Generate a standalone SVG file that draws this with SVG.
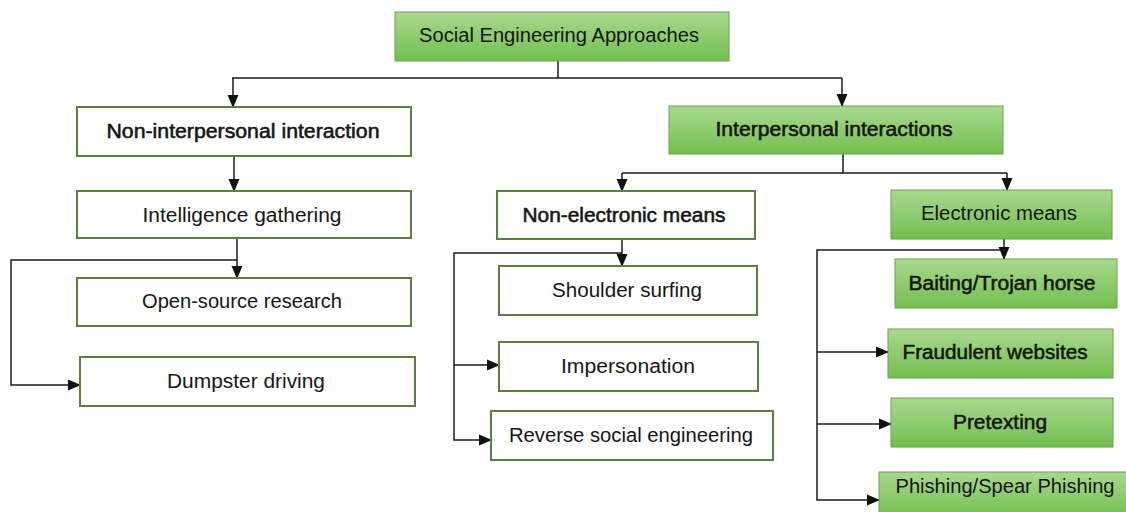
<svg xmlns="http://www.w3.org/2000/svg" width="1126" height="512" viewBox="0 0 1126 512">
  <defs>
    <linearGradient id="greenFill" x1="0" y1="0" x2="0" y2="1">
      <stop offset="0" stop-color="#a9d98f"/>
      <stop offset="1" stop-color="#72c04f"/>
    </linearGradient>
    <marker id="arrow" markerUnits="userSpaceOnUse" markerWidth="13" markerHeight="13" viewBox="0 0 13 13" refX="12" refY="6.5" orient="auto">
      <path d="M0,1 L13,6.5 L0,12 Z" fill="#111"/>
    </marker>
    <style>
      .plain rect { fill: #ffffff; stroke: #5f7d3c; stroke-width: 2; }
      .green rect { fill: url(#greenFill); stroke: #6f9d52; stroke-width: 1; }
      text { font-family: "Liberation Sans", Arial, sans-serif; font-size: 20px; fill: #151515; text-anchor: middle; }
      .b text { stroke: #151515; stroke-width: 0.55; }
      #connectors path { fill: none; stroke: #1a1a1a; stroke-width: 1.5; }
    </style>
  </defs>
  <rect width="1126" height="512" fill="#ffffff"/>

  <!-- connectors -->
  <g id="connectors">
    <path d="M558,61 V78 M232,78 H842"/>
    <path d="M233,78 V107" marker-end="url(#arrow)"/>
    <path d="M842,78 V106" marker-end="url(#arrow)"/>
    <path d="M234,156 V191" marker-end="url(#arrow)"/>
    <path d="M237,238 V278" marker-end="url(#arrow)"/>
    <path d="M237,260 H11 V385 H80" marker-end="url(#arrow)"/>
    <path d="M843,154 V173 M622,173 H1007"/>
    <path d="M622,173 V191" marker-end="url(#arrow)"/>
    <path d="M1007,173 V190" marker-end="url(#arrow)"/>
    <path d="M622,239 V266" marker-end="url(#arrow)"/>
    <path d="M622,253 H454 V440 H491" marker-end="url(#arrow)"/>
    <path d="M454,365 H499" marker-end="url(#arrow)"/>
    <path d="M1004,239 V259" marker-end="url(#arrow)"/>
    <path d="M1004,250 H817 V500 H879" marker-end="url(#arrow)"/>
    <path d="M817,352 H888" marker-end="url(#arrow)"/>
    <path d="M817,424 H891" marker-end="url(#arrow)"/>
  </g>

  <!-- root -->
  <g id="social-engineering-approaches" class="green">
    <rect x="395" y="12" width="334" height="49"/>
    <text x="559" y="42" textLength="280" lengthAdjust="spacingAndGlyphs">Social Engineering Approaches</text>
  </g>

  <!-- non-interpersonal branch -->
  <g id="non-interpersonal-interaction" class="plain b">
    <rect x="77" y="107" width="334" height="49"/>
    <text x="243" y="138" textLength="273" lengthAdjust="spacingAndGlyphs">Non-interpersonal interaction</text>
  </g>
  <g id="intelligence-gathering" class="plain">
    <rect x="77" y="191" width="334" height="47"/>
    <text x="242" y="222" textLength="199" lengthAdjust="spacingAndGlyphs">Intelligence gathering</text>
  </g>
  <g id="open-source-research" class="plain">
    <rect x="77" y="278" width="334" height="48"/>
    <text x="242" y="308" textLength="200" lengthAdjust="spacingAndGlyphs">Open-source research</text>
  </g>
  <g id="dumpster-driving" class="plain">
    <rect x="80" y="357" width="335" height="49"/>
    <text x="246" y="388" textLength="158" lengthAdjust="spacingAndGlyphs">Dumpster driving</text>
  </g>

  <!-- interpersonal branch -->
  <g id="interpersonal-interactions" class="green b">
    <rect x="669" y="106" width="334" height="48"/>
    <text x="834" y="136" textLength="237" lengthAdjust="spacingAndGlyphs">Interpersonal interactions</text>
  </g>

  <g id="non-electronic-means" class="plain b">
    <rect x="497" y="191" width="258" height="48"/>
    <text x="624" y="222" textLength="203" lengthAdjust="spacingAndGlyphs">Non-electronic means</text>
  </g>
  <g id="shoulder-surfing" class="plain">
    <rect x="499" y="266" width="258" height="49"/>
    <text x="627" y="297" textLength="150" lengthAdjust="spacingAndGlyphs">Shoulder surfing</text>
  </g>
  <g id="impersonation" class="plain">
    <rect x="499" y="342" width="259" height="49"/>
    <text x="628" y="373" textLength="134" lengthAdjust="spacingAndGlyphs">Impersonation</text>
  </g>
  <g id="reverse-social-engineering" class="plain">
    <rect x="491" y="411" width="282" height="49"/>
    <text x="631" y="442" textLength="244" lengthAdjust="spacingAndGlyphs">Reverse social engineering</text>
  </g>

  <g id="electronic-means" class="green">
    <rect x="891" y="190" width="221" height="49"/>
    <text x="999" y="220" textLength="156" lengthAdjust="spacingAndGlyphs">Electronic means</text>
  </g>
  <g id="baiting-trojan-horse" class="green b">
    <rect x="895" y="259" width="222" height="49"/>
    <text x="1002" y="290" textLength="187" lengthAdjust="spacingAndGlyphs">Baiting/Trojan horse</text>
  </g>
  <g id="fraudulent-websites" class="green b">
    <rect x="888" y="329" width="225" height="49"/>
    <text x="995" y="359" textLength="185" lengthAdjust="spacingAndGlyphs">Fraudulent websites</text>
  </g>
  <g id="pretexting" class="green b">
    <rect x="891" y="398" width="222" height="49"/>
    <text x="1000" y="429" textLength="94" lengthAdjust="spacingAndGlyphs">Pretexting</text>
  </g>
  <g id="phishing-spear-phishing" class="green">
    <rect x="879" y="472" width="250" height="45"/>
    <text x="1005" y="493" textLength="219" lengthAdjust="spacingAndGlyphs">Phishing/Spear Phishing</text>
  </g>
</svg>
